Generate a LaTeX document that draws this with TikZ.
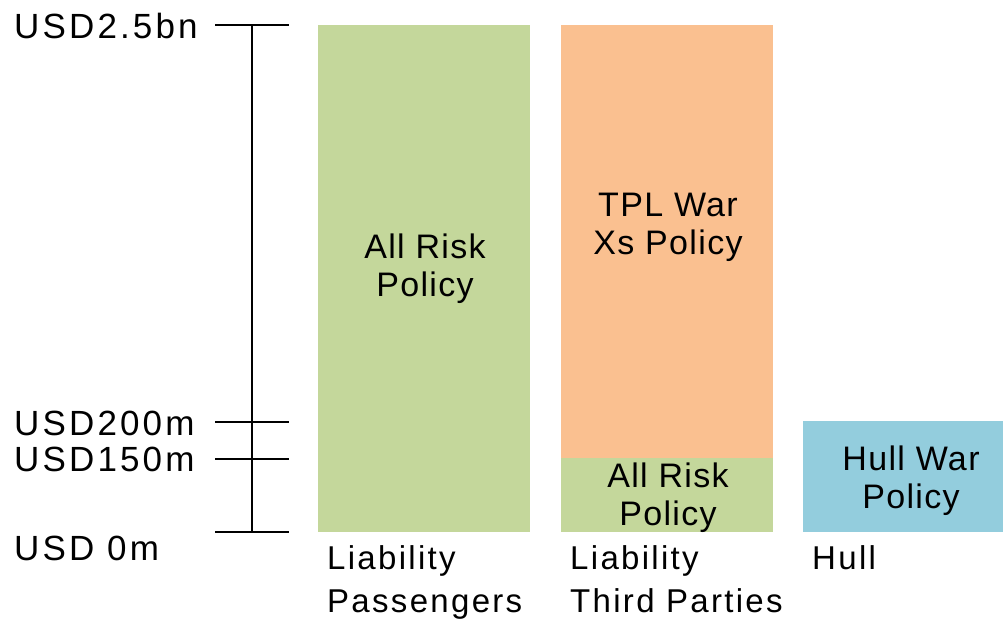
\documentclass[tikz,border=0pt]{standalone}
\usepackage{fontspec}
\setmainfont{Liberation Sans}
\definecolor{cgreen}{HTML}{C4D79B}
\definecolor{corange}{HTML}{FAC090}
\definecolor{cblue}{HTML}{93CDDD}
\begin{document}
\begin{tikzpicture}[x=1pt,y=-1pt,
  bar/.style={draw=none,rectangle,inner sep=0pt,outer sep=0pt,anchor=north west},
  tickline/.style={line width=1.6pt,black},
  boxtext/.style={font=\fontsize{34}{38}\selectfont\addfontfeature{LetterSpace=4},align=center,inner sep=0pt},
  cattext/.style={font=\fontsize{33}{43}\selectfont\addfontfeature{LetterSpace=7},align=left,inner sep=0pt},
  axistext/.style={font=\fontsize{35}{40}\selectfont\addfontfeature{LetterSpace=9},inner sep=0pt,anchor=base west}]
\useasboundingbox (0,0) rectangle (1003,619);
% bars
\node[bar,fill=cgreen,minimum width=212pt,minimum height=507pt] (pass) at (318,25) {};
\node[bar,fill=corange,minimum width=212pt,minimum height=433pt] (tpl) at (561,25) {};
\node[bar,fill=cgreen,minimum width=212pt,minimum height=74pt] (arp) at (561,458) {};
\node[bar,fill=cblue,minimum width=200pt,minimum height=111pt] (hull) at (803,421) {};
% bar texts
\node[boxtext] (passtxt) at (425,268.5) {All Risk\\Policy};
\node[boxtext] (tpltxt) at (668,227.5) {TPL War\\Xs Policy};
\node[boxtext] (arptxt) at (668,498) {All Risk\\Policy};
\node[boxtext] (hulltxt) at (911,481) {Hull War\\Policy};
% category labels
\node[cattext,anchor=north west] (cat1) at (327,545) {Liability\\Passengers};
\node[cattext,anchor=north west] (cat2) at (570,545) {Liability\\Third Parties};
\node[cattext,anchor=north west] (cat3) at (812,545) {Hull};
% axis
\coordinate (a0l) at (215,25);  \coordinate (a0r) at (289,25);
\coordinate (a1l) at (215,422); \coordinate (a1r) at (289,422);
\coordinate (a2l) at (215,459); \coordinate (a2r) at (289,459);
\coordinate (a3l) at (215,532); \coordinate (a3r) at (289,532);
\coordinate (axtop) at (252,25); \coordinate (axbot) at (252,532);
\draw[tickline] (a0l) -- (a0r);
\draw[tickline] (a1l) -- (a1r);
\draw[tickline] (a2l) -- (a2r);
\draw[tickline] (a3l) -- (a3r);
\draw[tickline] (axtop) -- (axbot);
\node[axistext] (l0) at (14,38.3) {USD2.5bn};
\node[axistext] (l1) at (14,435) {USD200m};
\node[axistext] (l2) at (14,471.7) {USD150m};
\node[axistext] (l3) at (14,560) {USD 0m};
\end{tikzpicture}
\end{document}
